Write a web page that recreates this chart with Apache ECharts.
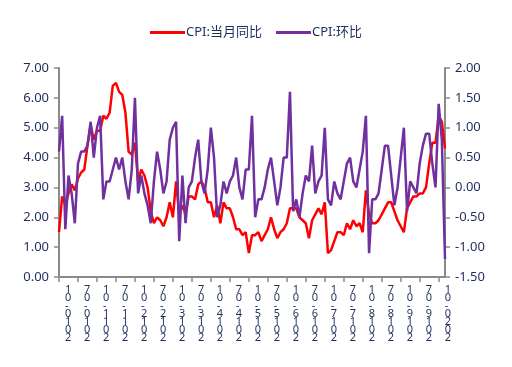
<!DOCTYPE html>
<html>
<head>
<meta charset="utf-8">
<script src="https://cdn.jsdelivr.net/npm/echarts@6/dist/echarts.min.js"></script>
<style>html,body{margin:0;padding:0;background:#fff}#c{width:512px;height:367px}</style>
</head>
<body>
<div id="c"></div>
<script>
// Months 2010-01 .. 2020-03
var categories = [];
for (var y = 2010; y <= 2020; y++) {
  for (var m = 1; m <= 12; m++) {
    if (y === 2020 && m > 3) break;
    categories.push(y + '-' + (m < 10 ? '0' + m : '' + m));
  }
}
var cpiYoY = [
  1.5,2.7,2.4,2.8,3.1,2.9,3.3,3.5,3.6,4.4,5.1,4.6,
  4.9,4.9,5.4,5.3,5.5,6.4,6.5,6.2,6.1,5.5,4.2,4.1,
  4.5,3.2,3.6,3.4,3.0,2.2,1.8,2.0,1.9,1.7,2.0,2.5,
  2.0,3.2,2.1,2.4,2.1,2.7,2.7,2.6,3.1,3.2,3.0,2.5,
  2.5,2.0,2.4,1.8,2.5,2.3,2.3,2.0,1.6,1.6,1.4,1.5,
  0.8,1.4,1.4,1.5,1.2,1.4,1.6,2.0,1.6,1.3,1.5,1.6,
  1.8,2.3,2.3,2.3,2.0,1.9,1.8,1.3,1.9,2.1,2.3,2.1,
  2.5,0.8,0.9,1.2,1.5,1.5,1.4,1.8,1.6,1.9,1.7,1.8,
  1.5,2.9,2.1,1.8,1.8,1.9,2.1,2.3,2.5,2.5,2.2,1.9,
  1.7,1.5,2.3,2.5,2.7,2.7,2.8,2.8,3.0,3.8,4.5,4.5,
  5.4,5.2,4.3
];
var cpiMoM = [
  0.6,1.2,-0.7,0.2,-0.1,-0.6,0.4,0.6,0.6,0.7,1.1,0.5,
  1.0,1.2,-0.2,0.1,0.1,0.3,0.5,0.3,0.5,0.1,-0.2,0.3,
  1.5,-0.1,0.2,-0.1,-0.3,-0.6,0.1,0.6,0.3,-0.1,0.1,0.8,
  1.0,1.1,-0.9,0.2,-0.6,0.0,0.1,0.5,0.8,0.1,-0.1,0.3,
  1.0,0.5,-0.5,-0.3,0.1,-0.1,0.1,0.2,0.5,0.0,-0.2,0.3,
  0.3,1.2,-0.5,-0.2,-0.2,0.0,0.3,0.5,0.1,-0.3,0.0,0.5,
  0.5,1.6,-0.4,-0.2,-0.5,-0.1,0.2,0.1,0.7,-0.1,0.1,0.2,
  1.0,-0.2,-0.3,0.1,-0.1,-0.2,0.1,0.4,0.5,0.1,0.0,0.3,
  0.6,1.2,-1.1,-0.2,-0.2,-0.1,0.3,0.7,0.7,0.2,-0.3,0.0,
  0.5,1.0,-0.4,0.1,0.0,-0.1,0.4,0.7,0.9,0.9,0.4,0.0,
  1.4,0.8,-1.2
];
var seriesNames = ['CPI:当月同比', 'CPI:环比'];

var txt = '#1f2d5c';
var axisGray = '#8a8a8a';
var font = 'Noto Sans, Noto Sans CJK SC, sans-serif';
var chart = echarts.init(document.getElementById('c'), null, {renderer: 'canvas'});
chart.setOption({
  animation: false,
  backgroundColor: '#fff',
  textStyle: {fontFamily: font},
  legend: {
    top: 21, left: 'center', itemWidth: 35, itemHeight: 3, itemGap: 14,
    icon: 'rect',
    textStyle: {color: txt, fontSize: 13, fontFamily: font, padding: [0, 0, 0, -4]},
    data: seriesNames
  },
  grid: {left: 59, right: 67, top: 68, bottom: 90, containLabel: false},
  xAxis: {
    type: 'category', data: categories, boundaryGap: false,
    axisLine: {lineStyle: {color: axisGray, width: 2}},
    axisTick: {show: true, interval: 5, length: 5, lineStyle: {color: axisGray, width: 1.5}},
    axisLabel: {
      interval: 5, margin: 9, color: txt, fontSize: 11, lineHeight: 8,
      fontFamily: font, align: 'left', padding: [0, 0, 0, 6],
      showMinLabel: true, hideOverlap: false,
      formatter: function (v) { return v.split('').reverse().join('\n'); }
    },
    splitLine: {show: false}
  },
  yAxis: [{
    type: 'value', min: 0, max: 7, interval: 1, position: 'left',
    axisLine: {show: true, lineStyle: {color: axisGray, width: 2}},
    axisTick: {show: true, length: 5, lineStyle: {color: axisGray, width: 1.5}},
    axisLabel: {color: txt, fontSize: 13, margin: 10, fontFamily: font,
      formatter: function (v) { return v.toFixed(2); }},
    splitLine: {show: false}
  }, {
    type: 'value', min: -1.5, max: 2, interval: 0.5, position: 'right',
    axisLine: {show: true, lineStyle: {color: axisGray, width: 2}},
    axisTick: {show: true, length: 5, lineStyle: {color: axisGray, width: 1.5}},
    axisLabel: {color: txt, fontSize: 13, margin: 10, fontFamily: font,
      formatter: function (v) { return v.toFixed(2); }},
    splitLine: {show: false}
  }],
  series: [{
    name: seriesNames[0], type: 'line', data: cpiYoY, yAxisIndex: 0,
    showSymbol: false, symbol: 'none',
    lineStyle: {color: '#ff0000', width: 2.5}, itemStyle: {color: '#ff0000'}
  }, {
    name: seriesNames[1], type: 'line', data: cpiMoM, yAxisIndex: 1,
    showSymbol: false, symbol: 'none',
    lineStyle: {color: '#7030a0', width: 2.5}, itemStyle: {color: '#7030a0'}
  }]
});
</script>
</body>
</html>
